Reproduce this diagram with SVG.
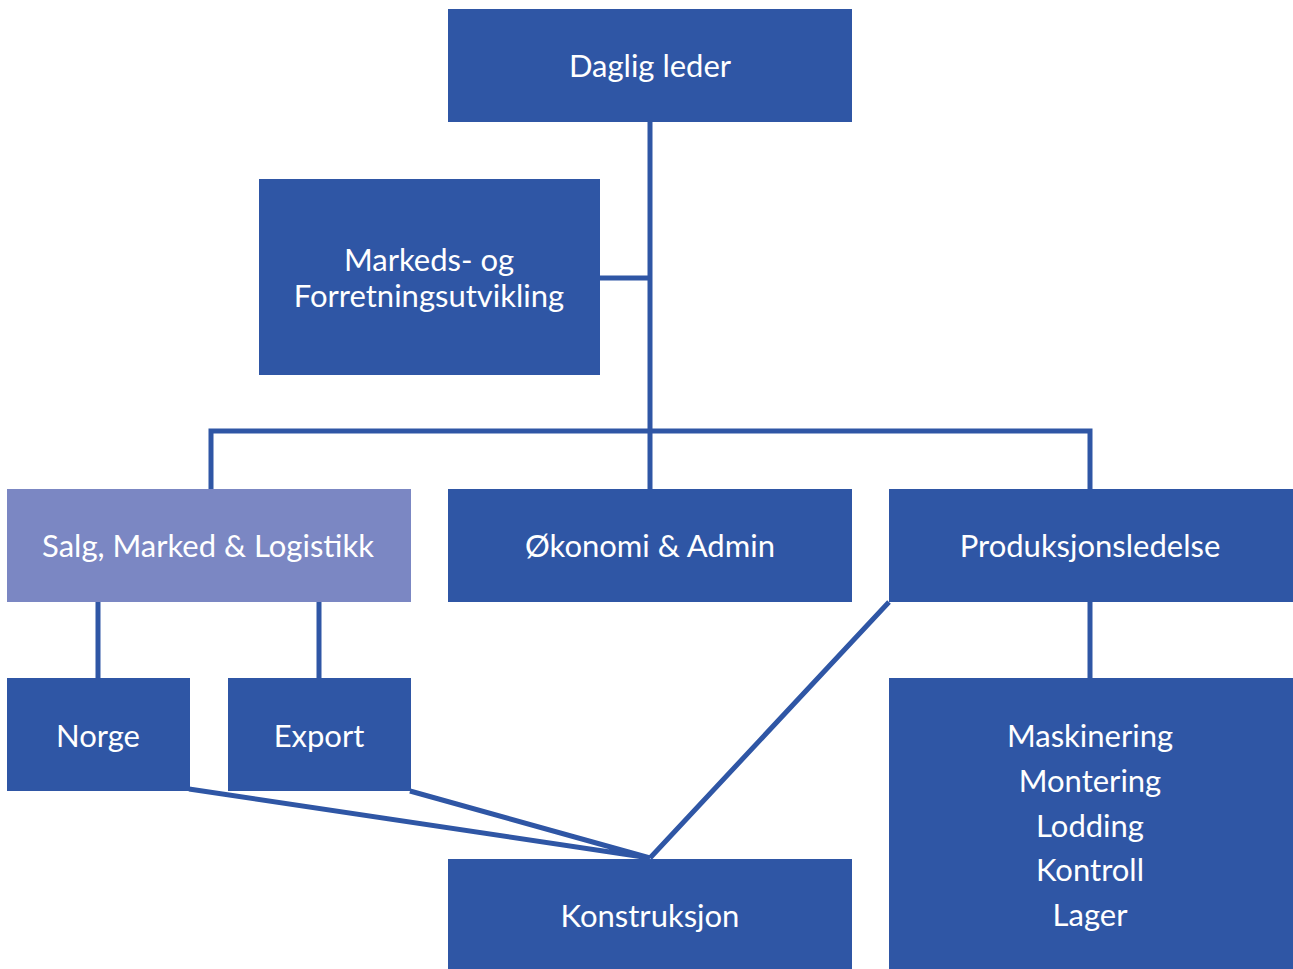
<svg xmlns="http://www.w3.org/2000/svg" width="1293" height="969" viewBox="0 0 1293 969">
<style>
.n{fill:#2f56a5}
.l{fill:#7b87c3}
.c{stroke:#2f56a5;stroke-width:5;fill:none}
text{font-family:"Lato","Open Sans","Liberation Sans",sans-serif;font-size:31px;fill:#ffffff;text-anchor:middle;dominant-baseline:central}
</style>
<rect width="1293" height="969" fill="#ffffff"/>
<g id="connectors">
<path class="c" d="M650 122V489M599 278H650M211 489V431H1090V489M98 602V678M319 602V678M1090 602V678"/>
<path class="c" d="M189 789L650 858M410 791L650 858M889 602L650 858"/>
</g>
<g id="daglig"><rect class="n" x="448" y="9" width="404" height="113"/><text x="650" y="65">Daglig leder</text></g>
<g id="markeds"><rect class="n" x="259" y="179" width="341" height="196"/><text x="429" y="259">Markeds- og</text><text x="429" y="295">Forretningsutvikling</text></g>
<g id="salg"><rect class="l" x="7" y="489" width="404" height="113"/><text x="208" y="545">Salg, Marked &amp; Logistikk</text></g>
<g id="okonomi"><rect class="n" x="448" y="489" width="404" height="113"/><text x="650" y="545">Økonomi &amp; Admin</text></g>
<g id="produksjon"><rect class="n" x="889" y="489" width="404" height="113"/><text x="1090" y="545">Produksjonsledelse</text></g>
<g id="norge"><rect class="n" x="7" y="678" width="183" height="113"/><text x="98" y="735">Norge</text></g>
<g id="export"><rect class="n" x="228" y="678" width="183" height="113"/><text x="319" y="735">Export</text></g>
<g id="konstruksjon"><rect class="n" x="448" y="859" width="404" height="110"/><text x="650" y="915">Konstruksjon</text></g>
<g id="maskinering"><rect class="n" x="889" y="678" width="404" height="291"/><text x="1090" y="735">Maskinering</text><text x="1090" y="780">Montering</text><text x="1090" y="825">Lodding</text><text x="1090" y="869">Kontroll</text><text x="1090" y="914">Lager</text></g>
</svg>
